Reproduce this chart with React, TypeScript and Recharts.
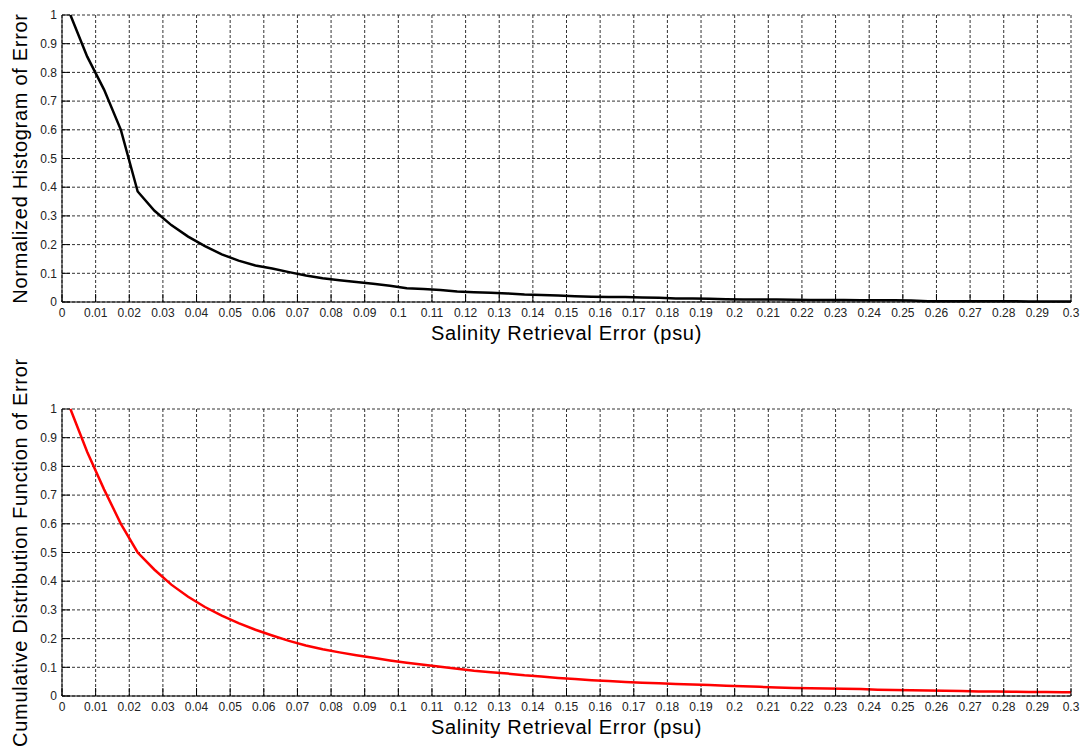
import React from 'react';
import { LineChart, Line, XAxis, YAxis, CartesianGrid } from 'recharts';

// bin centres of the error histogram (psu)
const errorBins = [
  0.0025, 0.0075, 0.0125, 0.0175, 0.0225, 0.0275, 0.0325, 0.0375, 0.0425, 0.0475,
  0.0525, 0.0575, 0.0625, 0.0675, 0.0725, 0.0775, 0.0825, 0.0875, 0.0925, 0.0975,
  0.1025, 0.1075, 0.1125, 0.1175, 0.1225, 0.1275, 0.1325, 0.1375, 0.1425, 0.1475,
  0.1525, 0.1575, 0.1625, 0.1675, 0.1725, 0.1775, 0.1825, 0.1875, 0.1925, 0.1975,
  0.2025, 0.2075, 0.2125, 0.2175, 0.2225, 0.2275, 0.2325, 0.2375, 0.2425, 0.2475,
  0.2525, 0.2575, 0.2625, 0.2675, 0.2725, 0.2775, 0.2825, 0.2875, 0.2925, 0.2975,
  0.3025,
];

const histValues = [
  1.0, 0.855, 0.74, 0.6, 0.385, 0.318, 0.268, 0.228, 0.195, 0.166,
  0.144, 0.127, 0.117, 0.104, 0.092, 0.083, 0.076, 0.07, 0.064, 0.057,
  0.048, 0.045, 0.042, 0.037, 0.034, 0.032, 0.03, 0.026, 0.024, 0.023,
  0.02, 0.018, 0.017, 0.017, 0.016, 0.015, 0.012, 0.012, 0.011, 0.01,
  0.009, 0.009, 0.009, 0.008, 0.007, 0.007, 0.007, 0.006, 0.006, 0.006,
  0.005, 0.003, 0.003, 0.003, 0.003, 0.003, 0.003, 0.002, 0.002, 0.002,
  0.002,
];

const cdfValues = [
  1.0, 0.85, 0.72, 0.6, 0.5, 0.44, 0.388, 0.346, 0.31, 0.28,
  0.254, 0.231, 0.211, 0.192, 0.176, 0.163, 0.152, 0.142, 0.133, 0.124,
  0.116, 0.109, 0.102, 0.095, 0.088, 0.083, 0.078, 0.072, 0.068, 0.063,
  0.059, 0.055, 0.052, 0.049, 0.046, 0.044, 0.042, 0.04, 0.038, 0.036,
  0.034, 0.032, 0.03, 0.028, 0.027, 0.026, 0.025, 0.024, 0.022, 0.021,
  0.02, 0.019, 0.018, 0.017, 0.016, 0.016, 0.015, 0.014, 0.014, 0.013,
  0.013,
];

const xTicks = [
  0, 0.01, 0.02, 0.03, 0.04, 0.05, 0.06, 0.07, 0.08, 0.09, 0.1,
  0.11, 0.12, 0.13, 0.14, 0.15, 0.16, 0.17, 0.18, 0.19, 0.2,
  0.21, 0.22, 0.23, 0.24, 0.25, 0.26, 0.27, 0.28, 0.29, 0.3,
];
const yTicks = [0, 0.1, 0.2, 0.3, 0.4, 0.5, 0.6, 0.7, 0.8, 0.9, 1];

const FONT = '"Liberation Sans", Arial, sans-serif';

const histData = errorBins.map((x, i) => ({ x, y: histValues[i] }));
const cdfData = errorBins.map((x, i) => ({ x, y: cdfValues[i] }));

const YTitle = (props: any) => {
  const vb = props.viewBox || {};
  const cx = 20;
  const cy = (vb.y ?? 0) + (vb.height ?? 0) / 2;
  return (
    <text
      x={cx}
      y={cy}
      transform={`rotate(-90 ${cx} ${cy})`}
      textAnchor="middle"
      dominantBaseline="central"
      fontFamily={FONT}
      fontSize={20}
      letterSpacing={0.7}
      fill="#000"
    >
      {props.value}
    </text>
  );
};

const XTitle = (props: any) => {
  const vb = props.viewBox || {};
  const cx = (vb.x ?? 0) + (vb.width ?? 0) / 2;
  const cy = (vb.y ?? 0) + 38;
  return (
    <text x={cx} y={cy} textAnchor="middle" fontFamily={FONT} fontSize={20} letterSpacing={0.7} fill="#000">
      {props.value}
    </text>
  );
};

interface PanelProps {
  data: { x: number; y: number }[];
  color: string;
  yTitle: string;
  top: number;
  height: number;
  marginTop: number;
  xAxisHeight: number;
}

const Panel: React.FC<PanelProps> = ({ data, color, yTitle, top, height, marginTop, xAxisHeight }) => (
  <div style={{ position: 'absolute', left: 0, top }}>
    <LineChart width={1084} height={height} data={data} margin={{ top: marginTop, right: 13, left: 0, bottom: 0 }}>
      <CartesianGrid stroke="#333" strokeDasharray="3 2" />
      <XAxis
        dataKey="x"
        type="number"
        domain={[0, 0.3]}
        ticks={xTicks}
        interval={0}
        allowDataOverflow
        height={xAxisHeight}
        tickSize={-8}
        tickMargin={14}
        tickLine={{ stroke: '#000' }}
        axisLine={{ stroke: '#000' }}
        tick={{ fontSize: 12, fill: '#222', fontFamily: FONT }}
        label={{ value: 'Salinity Retrieval Error (psu)', content: XTitle }}
      />
      <XAxis
        xAxisId="top"
        orientation="top"
        dataKey="x"
        type="number"
        domain={[0, 0.3]}
        ticks={xTicks}
        interval={0}
        allowDataOverflow
        height={0}
        tickSize={-8}
        tick={false}
        tickLine={{ stroke: '#333' }}
        axisLine={{ stroke: '#888' }}
      />
      <YAxis
        type="number"
        domain={[0, 1]}
        ticks={yTicks}
        interval={0}
        width={62}
        tickSize={-8}
        tickMargin={13}
        tickLine={{ stroke: '#000' }}
        axisLine={{ stroke: '#000' }}
        tick={{ fontSize: 12, fill: '#222', fontFamily: FONT }}
        label={{ value: yTitle, content: YTitle }}
      />
      <YAxis
        yAxisId="right"
        orientation="right"
        type="number"
        domain={[0, 1]}
        ticks={yTicks}
        interval={0}
        width={0}
        tickSize={-8}
        tick={false}
        tickLine={{ stroke: '#333' }}
        axisLine={{ stroke: '#222' }}
      />
      <Line
        type="linear"
        dataKey="y"
        stroke={color}
        strokeWidth={2.5}
        dot={false}
        activeDot={false}
        isAnimationActive={false}
      />
    </LineChart>
  </div>
);

export default function App() {
  return (
    <div style={{ position: 'absolute', left: 0, top: 0, width: 1084, height: 746, background: '#fff', overflow: 'hidden' }}>
      <Panel
        data={histData}
        color="#000"
        yTitle="Normalized Histogram of Error"
        top={0}
        height={350}
        marginTop={15}
        xAxisHeight={48}
      />
      <Panel
        data={cdfData}
        color="#ff0000"
        yTitle="Cumulative Distribution Function of Error"
        top={350}
        height={396}
        marginTop={59}
        xAxisHeight={50}
      />
    </div>
  );
}
